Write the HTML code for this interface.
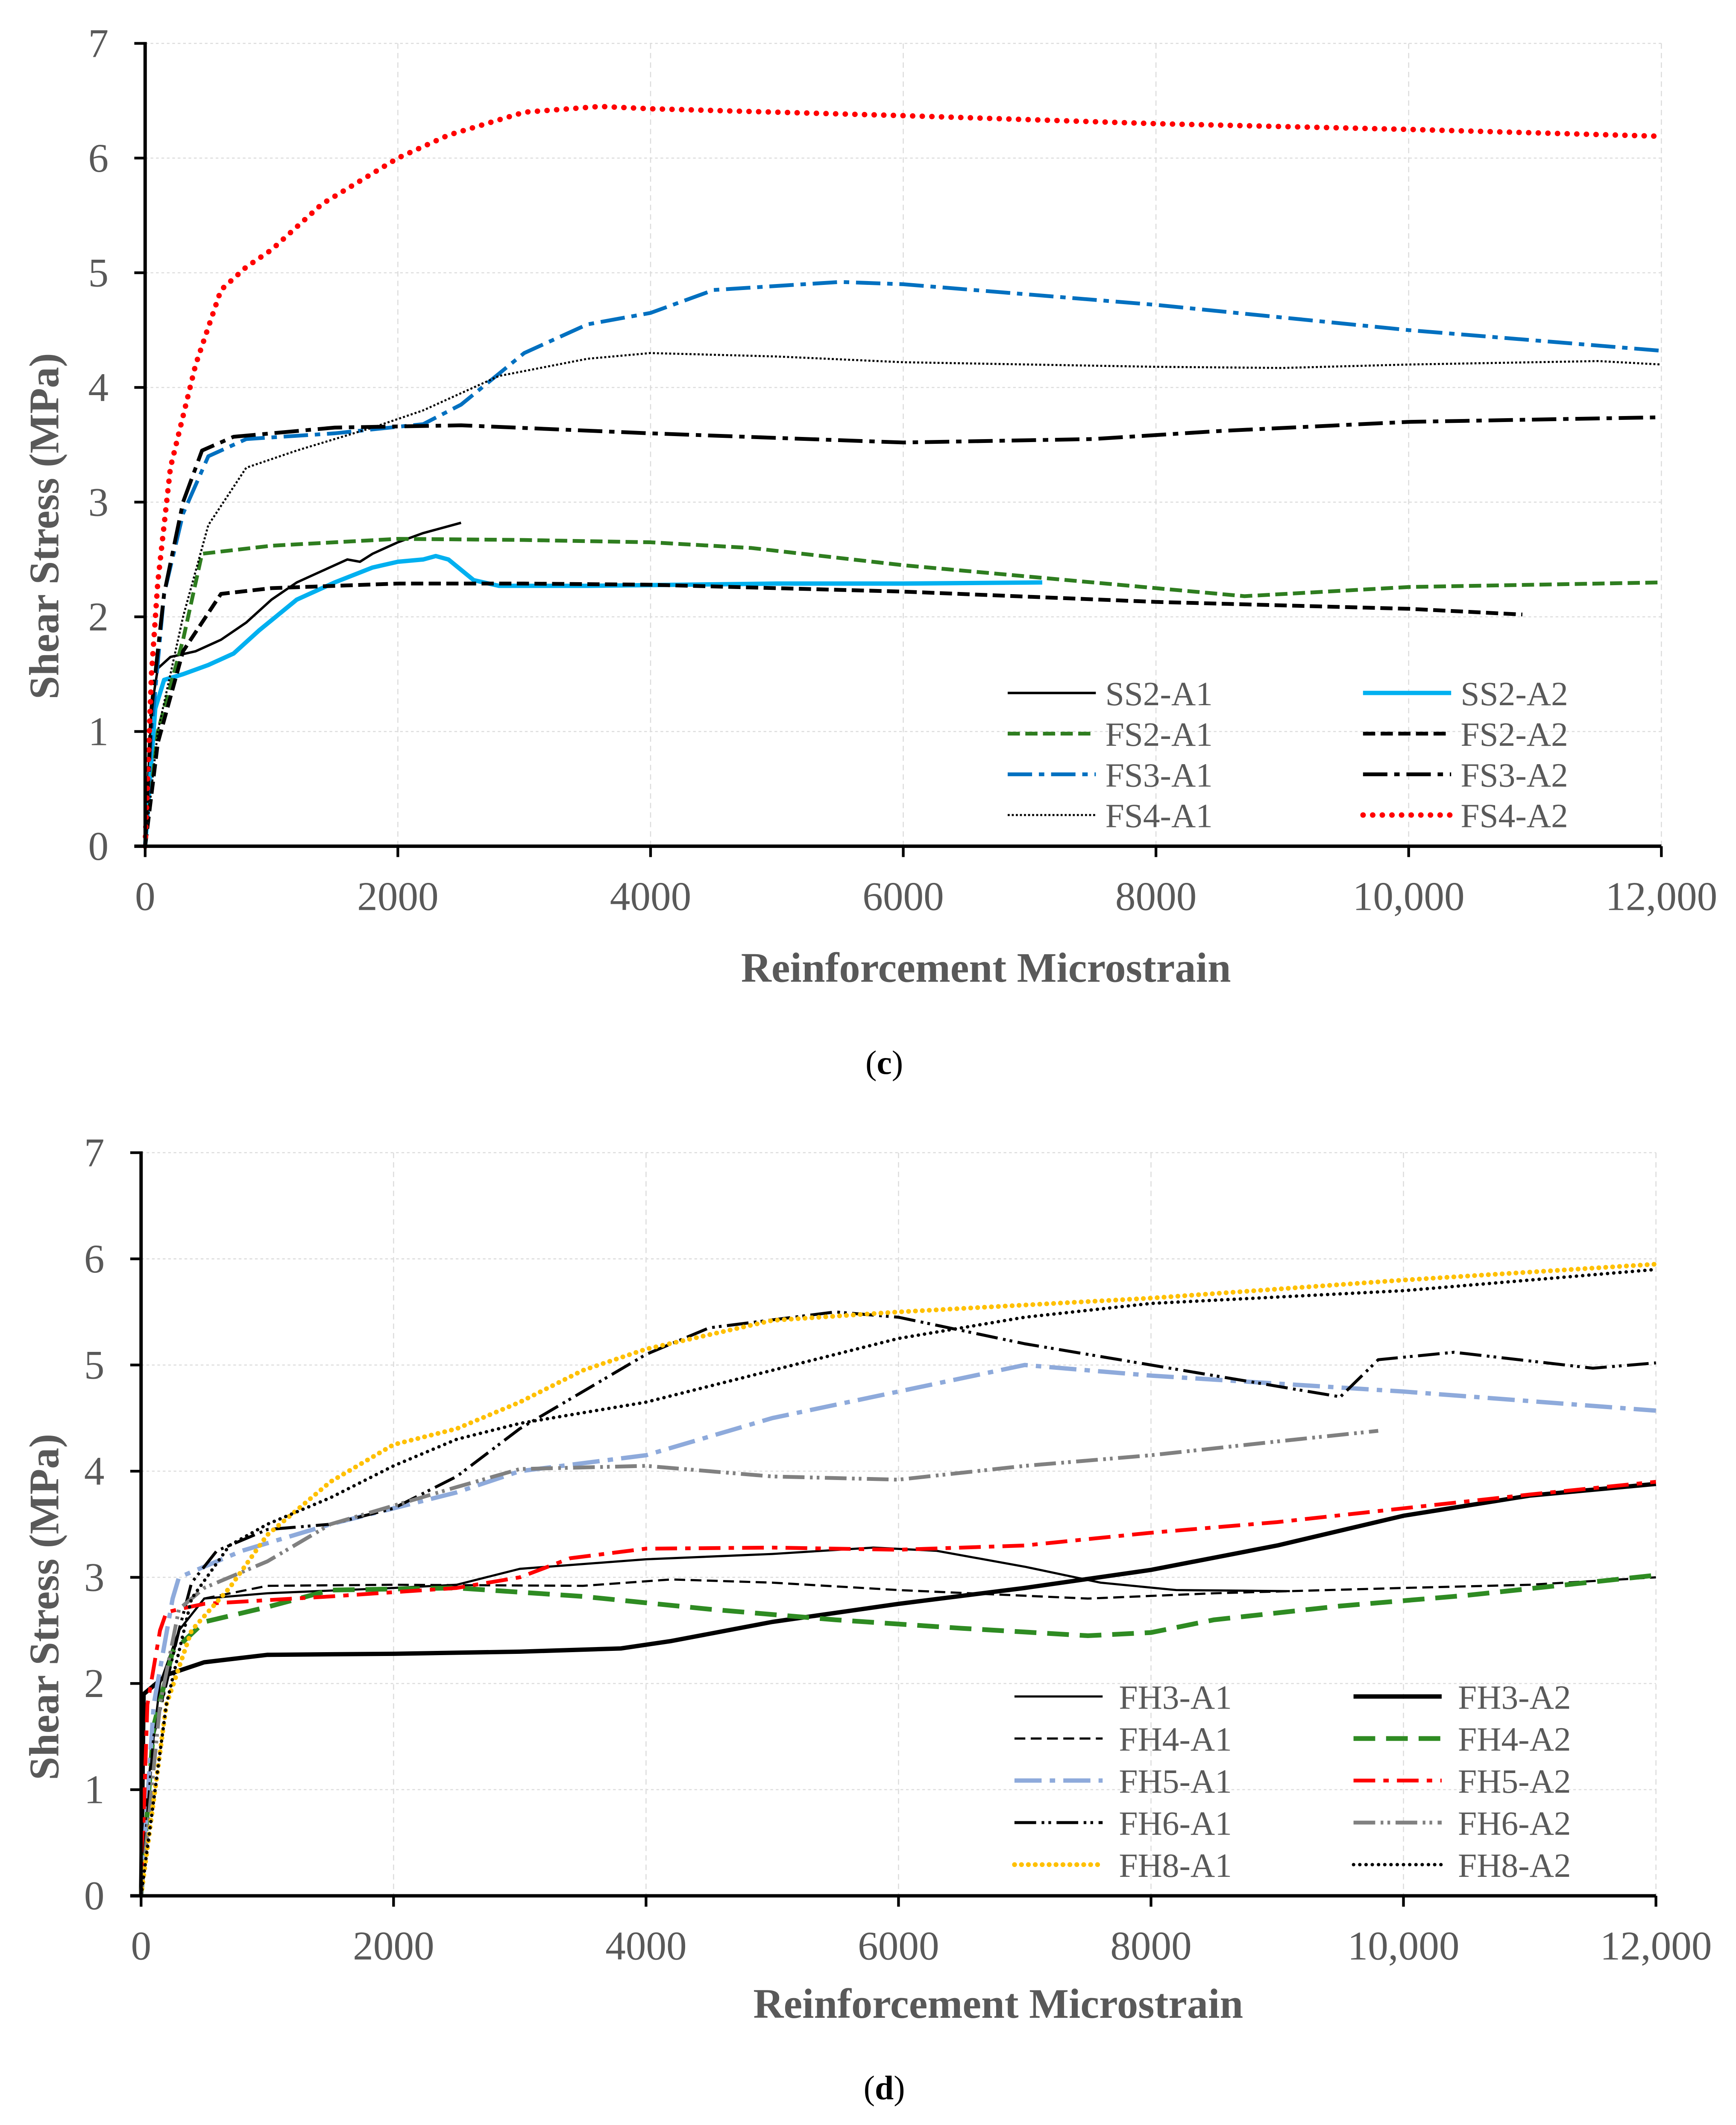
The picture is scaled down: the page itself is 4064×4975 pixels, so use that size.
<!DOCTYPE html>
<html><head><meta charset="utf-8">
<style>
html,body{margin:0;padding:0;background:#fff;}
svg{display:block;}
text{font-family:"Liberation Serif",serif;}
</style></head>
<body>
<svg id="root" width="4064" height="4975" viewBox="0 0 1280 1567" xmlns="http://www.w3.org/2000/svg">
<rect x="0" y="0" width="1280" height="1567" fill="#fff"/>
</svg>
<script>
// ---------- Chart (c) data ----------
const xTicksC = [0, 2000, 4000, 6000, 8000, 10000, 12000];
const xTickLabelsC = ["0", "2000", "4000", "6000", "8000", "10,000", "12,000"];
const yTicksC = [0, 1, 2, 3, 4, 5, 6, 7];
const ss2a1 = [[0,0],[50,1.2],[100,1.55],[200,1.65],[400,1.7],[600,1.8],[800,1.95],[1000,2.15],[1200,2.3],[1400,2.4],[1600,2.5],[1700,2.48],[1800,2.55],[2000,2.65],[2200,2.73],[2500,2.82]];
const ss2a2 = [[0,0],[80,1.2],[150,1.45],[300,1.5],[500,1.58],[700,1.68],[900,1.88],[1200,2.15],[1500,2.3],[1800,2.43],[2000,2.48],[2200,2.5],[2300,2.53],[2400,2.5],[2600,2.32],[2800,2.27],[3500,2.27],[5000,2.29],[6000,2.29],[7100,2.3]];
const fs2a1 = [[0,0],[100,1.0],[300,1.8],[450,2.55],[1000,2.62],[2000,2.68],[3000,2.67],[4000,2.65],[4800,2.6],[6000,2.45],[7000,2.35],[8700,2.18],[10000,2.26],[12000,2.3]];
const fs2a2 = [[0,0],[100,0.9],[300,1.7],[600,2.2],[1000,2.25],[2000,2.29],[3000,2.29],[4000,2.28],[6000,2.22],[8000,2.13],[10000,2.07],[10900,2.02]];
const fs3a1 = [[0,0],[50,1.0],[150,2.2],[300,2.9],[500,3.4],[800,3.55],[1500,3.6],[2200,3.68],[2500,3.85],[3000,4.3],[3500,4.55],[4000,4.65],[4500,4.85],[5500,4.92],[6000,4.9],[8000,4.72],[10000,4.5],[12000,4.32]];
const fs3a2 = [[0,0],[50,1.2],[150,2.2],[300,3.0],[450,3.45],[700,3.57],[1500,3.65],[2500,3.67],[4000,3.6],[6000,3.52],[7500,3.55],[8500,3.62],[10000,3.7],[12000,3.74]];
const fs4a1 = [[0,0],[100,1.0],[300,2.0],[500,2.8],[800,3.3],[1200,3.45],[1800,3.65],[2200,3.8],[2800,4.1],[3500,4.25],[4000,4.3],[5000,4.27],[6000,4.22],[8000,4.18],[9000,4.17],[10000,4.2],[11500,4.23],[12000,4.2]];
const fs4a2 = [[0,0],[50,1.5],[100,2.3],[200,3.3],[400,4.2],[600,4.85],[800,5.05],[1000,5.2],[1400,5.6],[2000,6.0],[2400,6.2],[3000,6.4],[3600,6.45],[4000,6.43],[6000,6.37],[8000,6.3],[10000,6.25],[12000,6.19]];

// ---------- Chart (d) data ----------
const xTicksD = [0, 2000, 4000, 6000, 8000, 10000, 12000];
const xTickLabelsD = ["0", "2000", "4000", "6000", "8000", "10,000", "12,000"];
const yTicksD = [0, 1, 2, 3, 4, 5, 6, 7];
const fh3a1 = [[0,0],[50,1.0],[150,2.0],[300,2.5],[500,2.8],[1000,2.85],[2000,2.9],[2500,2.93],[3000,3.08],[4000,3.17],[5000,3.22],[5800,3.28],[6300,3.25],[7000,3.1],[7600,2.95],[8200,2.88],[9100,2.87]];
const fh3a2 = [[0,0],[20,1.9],[200,2.08],[500,2.2],[1000,2.27],[2000,2.28],[3000,2.3],[3800,2.33],[4200,2.4],[5000,2.58],[6000,2.75],[7000,2.9],[8000,3.07],[9000,3.3],[10000,3.58],[11000,3.77],[12000,3.88]];
const fh4a1 = [[0,0],[100,1.5],[300,2.5],[500,2.8],[1000,2.92],[2000,2.93],[3500,2.92],[4200,2.98],[5000,2.95],[6000,2.88],[7500,2.8],[8500,2.85],[10000,2.9],[11000,2.93],[12000,3.0]];
const fh4a2 = [[0,0],[100,1.6],[250,2.3],[500,2.58],[1000,2.72],[1500,2.88],[2500,2.9],[3500,2.82],[4500,2.7],[5500,2.6],[6500,2.52],[7500,2.45],[8000,2.48],[8500,2.6],[9500,2.73],[10500,2.83],[12000,3.02]];
const fh5a1 = [[0,0],[100,1.8],[250,2.8],[300,3.0],[400,3.05],[500,3.1],[800,3.25],[1500,3.5],[2500,3.8],[3000,4.0],[4000,4.15],[5000,4.5],[6000,4.75],[7000,5.0],[8000,4.9],[10000,4.75],[12000,4.57]];
const fh5a2 = [[0,0],[50,1.8],[150,2.5],[200,2.67],[300,2.7],[500,2.75],[1500,2.82],[2500,2.9],[3000,3.0],[3400,3.18],[4000,3.27],[5000,3.28],[6000,3.26],[7000,3.3],[8000,3.42],[9000,3.52],[10000,3.65],[11000,3.78],[12000,3.9]];
const fh6a1 = [[0,0],[100,1.5],[300,2.5],[400,2.95],[600,3.25],[1000,3.45],[1500,3.5],[2000,3.65],[2500,3.95],[3000,4.4],[3500,4.75],[4000,5.1],[4500,5.35],[5500,5.5],[6000,5.45],[7000,5.2],[8000,5.0],[9500,4.7],[9800,5.05],[10400,5.12],[11500,4.97],[12000,5.02]];
const fh6a2 = [[0,0],[150,1.8],[300,2.7],[500,2.9],[1000,3.15],[1500,3.5],[2500,3.85],[3000,4.02],[4000,4.05],[5000,3.95],[6000,3.92],[7000,4.05],[8000,4.15],[9000,4.28],[9800,4.38]];
const fh8a1 = [[0,0],[200,1.8],[400,2.5],[700,2.9],[1000,3.4],[1500,3.9],[2000,4.25],[2500,4.4],[3000,4.65],[3500,4.95],[4000,5.15],[5000,5.42],[6000,5.5],[8000,5.63],[10000,5.8],[12000,5.95]];
const fh8a2 = [[0,0],[200,1.8],[400,2.8],[700,3.3],[1000,3.5],[1500,3.75],[2000,4.05],[2500,4.3],[3000,4.45],[4000,4.65],[5000,4.95],[6000,5.25],[7000,5.45],[8000,5.58],[10000,5.7],[12000,5.9]];

const NS = "http://www.w3.org/2000/svg";
const root = document.getElementById("root");
function mk(tag, attrs, parent){
  const e = document.createElementNS(NS, tag);
  for (const k in attrs) e.setAttribute(k, attrs[k]);
  (parent || root).appendChild(e);
  return e;
}

function drawChart(cfg){
  const g = mk("g", {});
  
  
  const X = v => cfg.x0 + (v / 12000) * (cfg.x1 - cfg.x0);
  const Y = v => cfg.y0 - (v / 7) * (cfg.y0 - cfg.y1);
  cfg.xTicks.forEach(t => {
    if (t === 0) return;
    const l = mk("line", {x1:X(t), x2:X(t), y1:cfg.y1, y2:cfg.y0, stroke:"#dcdcdc", "stroke-width":0.8, "stroke-dasharray":"4,3"}, g);
    
    
  });
  cfg.yTicks.forEach(t => {
    if (t === 0) return;
    const l = mk("line", {x1:cfg.x0, x2:cfg.x1, y1:Y(t), y2:Y(t), stroke:"#dcdcdc", "stroke-width":0.8, "stroke-dasharray":"2,2"}, g);
    
    
  });
  cfg.series.forEach(s => {
    const d = s.data.map((p,i) => (i ? "L" : "M") + X(p[0]).toFixed(2) + "," + Y(p[1]).toFixed(2)).join(" ");
    const p = mk("path", {d:d, fill:"none", stroke:s.color, "stroke-width":s.w, "stroke-dasharray":s.dash||"none", "stroke-linecap":s.cap||"butt", "stroke-linejoin":"round"}, g);
    
    
  });
  const ya = mk("line", {x1:cfg.x0, x2:cfg.x0, y1:cfg.y1-1, y2:cfg.y0+1, stroke:"#000", "stroke-width":2.5}, g);
  
  
  const xa = mk("line", {x1:cfg.x0-8, x2:cfg.x1, y1:cfg.y0, y2:cfg.y0, stroke:"#000", "stroke-width":2.5}, g);
  
  
  cfg.xTicks.forEach((t,i) => {
    const tk = mk("line", {x1:X(t), x2:X(t), y1:cfg.y0, y2:cfg.y0+8, stroke:"#000", "stroke-width":2}, g);
    
    
    const tx = mk("text", {x:X(t), y:cfg.y0+47, "text-anchor":"middle", "font-size":30, fill:"#595959"}, g);
    tx.textContent = cfg.xLabels[i];
    
    
  });
  cfg.yTicks.forEach(t => {
    const tk = mk("line", {x1:cfg.x0-8, x2:cfg.x0, y1:Y(t), y2:Y(t), stroke:"#000", "stroke-width":2}, g);
    
    
    const tx = mk("text", {x:cfg.x0-27, y:Y(t)+10, "text-anchor":"end", "font-size":30, fill:"#595959"}, g);
    tx.textContent = String(t);
    
    
  });
  const xt = mk("text", {x:cfg.xTitleX, y:cfg.xTitleY, "text-anchor":"middle", "font-size":31, "font-weight":"bold", fill:"#595959"}, g);
  xt.textContent = "Reinforcement Microstrain";
  
  
  const yt = mk("text", {x:0, y:0, "text-anchor":"middle", "font-size":31, "font-weight":"bold", fill:"#595959", transform:"translate(" + cfg.yTitleX + "," + cfg.yTitleY + ") rotate(-90)"}, g);
  yt.textContent = "Shear Stress (MPa)";
  
  
  cfg.series.forEach((s,i) => {
    const col = i % 2, row = Math.floor(i / 2);
    const lx = cfg.legX[col], ly = cfg.legY0 + row * cfg.legDy;
    const ll = mk("line", {x1:lx, x2:lx+65, y1:ly, y2:ly, stroke:s.color, "stroke-width":s.w, "stroke-dasharray":s.dash||"none", "stroke-linecap":s.cap||"butt"}, g);
    
    
    const lt = mk("text", {x:lx+cfg.legTextOff, y:ly+9, "font-size":25, fill:"#595959"}, g);
    lt.textContent = s.label;
    
    
  });
  const cap = mk("text", {x:cfg.capX, y:cfg.capY, "text-anchor":"middle", "font-size":25, fill:"#000"}, g);
  cap.innerHTML = '(<tspan font-weight="bold">' + cfg.cap + '</tspan>)';
  
  
}

drawChart({
  name: "chart-c", x0:107, x1:1225, y0:624, y1:32,
  xTicks:xTicksC, xLabels:xTickLabelsC, yTicks:yTicksC,
  xTitleX:727, xTitleY:724, yTitleX:43, yTitleY:388,
  legX:[743, 1005], legY0:511, legDy:30, legTextOff:72,
  capX:652, capY:792, cap:"c",
  series:[
    {id:"ss2-a1", label:"SS2-A1", data:ss2a1, color:"#000", w:1.8},
    {id:"ss2-a2", label:"SS2-A2", data:ss2a2, color:"#00b0f0", w:3.2},
    {id:"fs2-a1", label:"FS2-A1", data:fs2a1, color:"#2e7d1f", w:2.8, dash:"9,4"},
    {id:"fs2-a2", label:"FS2-A2", data:fs2a2, color:"#000", w:2.8, dash:"9,4"},
    {id:"fs3-a1", label:"FS3-A1", data:fs3a1, color:"#0070c0", w:2.8, dash:"18,5,4,5"},
    {id:"fs3-a2", label:"FS3-A2", data:fs3a2, color:"#000", w:2.8, dash:"18,5,4,5"},
    {id:"fs4-a1", label:"FS4-A1", data:fs4a1, color:"#000", w:1.5, dash:"1.5,1.5"},
    {id:"fs4-a2", label:"FS4-A2", data:fs4a2, color:"#ff0000", w:4, dash:"0.1,7", cap:"round"}
  ]
});

drawChart({
  name: "chart-d", x0:104, x1:1221, y0:1398, y1:850,
  xTicks:xTicksD, xLabels:xTickLabelsD, yTicks:yTicksD,
  xTitleX:736, xTitleY:1488, yTitleX:43, yTitleY:1185,
  legX:[748, 998], legY0:1251, legDy:31, legTextOff:77,
  capX:652, capY:1548, cap:"d",
  series:[
    {id:"fh3-a1", label:"FH3-A1", data:fh3a1, color:"#000", w:1.6},
    {id:"fh3-a2", label:"FH3-A2", data:fh3a2, color:"#000", w:3.2},
    {id:"fh4-a1", label:"FH4-A1", data:fh4a1, color:"#000", w:1.6, dash:"8,4"},
    {id:"fh4-a2", label:"FH4-A2", data:fh4a2, color:"#2e8b22", w:3.5, dash:"16,8"},
    {id:"fh5-a1", label:"FH5-A1", data:fh5a1, color:"#8eaadb", w:3.2, dash:"20,6,4,6"},
    {id:"fh5-a2", label:"FH5-A2", data:fh5a2, color:"#ff0000", w:2.8, dash:"16,6,4,6"},
    {id:"fh6-a1", label:"FH6-A1", data:fh6a1, color:"#000", w:2.2, dash:"16,4,2,3,2,4"},
    {id:"fh6-a2", label:"FH6-A2", data:fh6a2, color:"#808080", w:2.8, dash:"16,4,2,3,2,4"},
    {id:"fh8-a1", label:"FH8-A1", data:fh8a1, color:"#ffc000", w:3.5, dash:"0.1,5", cap:"round"},
    {id:"fh8-a2", label:"FH8-A2", data:fh8a2, color:"#000", w:2.5, dash:"0.1,4.5", cap:"round"}
  ]
});
</script>
</body></html>
